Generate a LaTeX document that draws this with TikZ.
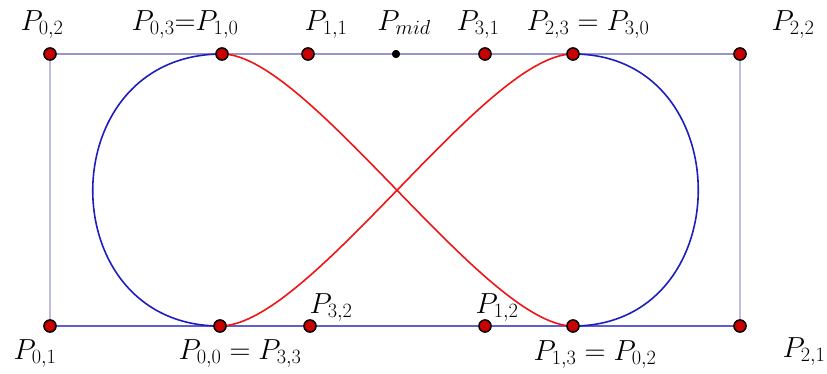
\RequirePackage{fix-cm}
\documentclass[tikz,border=0pt]{standalone}
\usepackage{amsmath,amssymb}
\usepackage{tikz}
\usetikzlibrary{positioning}
\definecolor{boxTop}{RGB}{150,150,205}
\definecolor{boxSide}{RGB}{190,190,228}
\definecolor{boxBottom}{RGB}{95,95,205}
\definecolor{loopBlue}{RGB}{30,30,190}
\definecolor{loopRed}{RGB}{240,20,20}
\definecolor{ptRed}{RGB}{200,0,0}

\begin{document}
\begin{tikzpicture}[x=1pt,y=-1pt,
    ctrl/.style={circle,draw=black,fill=ptRed,line width=1.3pt,inner sep=0pt,minimum size=12pt},
    midpt/.style={circle,fill=black,inner sep=0pt,minimum size=8pt},
    lbl/.style={font=\fontsize{29}{34}\selectfont,inner sep=0pt,anchor=base},
    edge/.style={line width=1.4pt},
    seg/.style={line width=1.6pt}
  ]
    \useasboundingbox (0,0) rectangle (827,373);
    % control points
    \node[ctrl] (p02) at (50,54) {};
    \node[ctrl] (p03) at (222,54) {};
    \node[ctrl] (p11) at (308,54) {};
    \node[midpt] (pmid) at (396,54) {};
    \node[ctrl] (p31) at (485,54) {};
    \node[ctrl] (p30) at (573,54) {};
    \node[ctrl] (p22) at (740,54) {};
    \node[ctrl] (p01) at (50,326) {};
    \node[ctrl] (p00) at (220,326) {};
    \node[ctrl] (p32) at (310,326) {};
    \node[ctrl] (p12) at (485,326) {};
    \node[ctrl] (p13) at (573,326) {};
    \node[ctrl] (p21) at (740,326) {};
    % hull
    \draw[edge,boxTop] (p02) -- (p03) -- (p11) -- (pmid) -- (p31) -- (p30) -- (p22);
    \draw[edge,boxBottom] (p01) -- (p00) -- (p32) -- (p12) -- (p13) -- (p21);
    \draw[edge,boxSide] (p02) -- (p01);
    \draw[edge,boxSide] (p22) -- (p21);
    % the four segments
    \draw[seg,loopBlue] (p00.center) .. controls (p01.center) and (p02.center) .. (p03.center);
    \draw[seg,loopRed] (p03.center) .. controls (p11.center) and (p12.center) .. (p13.center);
    \draw[seg,loopBlue] (p13.center) .. controls (p21.center) and (p22.center) .. (p30.center);
    \draw[seg,loopRed] (p30.center) .. controls (p31.center) and (p32.center) .. (p00.center);
    % redraw dots on top
    \foreach \p in {p02,p03,p11,p31,p30,p22,p01,p00,p32,p12,p13,p21}
      \node[ctrl] at (\p) {};
    \node[midpt] at (pmid) {};
    % labels
    \node[lbl] (l02) at (42,30) {$P_{0,2}$};
    \node[lbl] (l03) at (185,30) {$P_{0,3}{=}P_{1,0}$};
    \node[lbl] (l11) at (326,30) {$P_{1,1}$};
    \node[lbl] (lmid) at (404,30) {$P_{mid}$};
    \node[lbl] (l31) at (478,30) {$P_{3,1}$};
    \node[lbl] (l23) at (588,30) {$P_{2,3} = P_{3,0}$};
    \node[lbl] (l22) at (793,30) {$P_{2,2}$};
    \node[lbl] (l01) at (35,359) {$P_{0,1}$};
    \node[lbl] (l00) at (240,359) {$P_{0,0} = P_{3,3}$};
    \node[lbl] (l32) at (331,313) {$P_{3,2}$};
    \node[lbl] (l12) at (497,313) {$P_{1,2}$};
    \node[lbl] (l13) at (595,360) {$P_{1,3} = P_{0,2}$};
    \node[lbl] (l21) at (804,357) {$P_{2,1}$};
  \end{tikzpicture}
\end{document}
